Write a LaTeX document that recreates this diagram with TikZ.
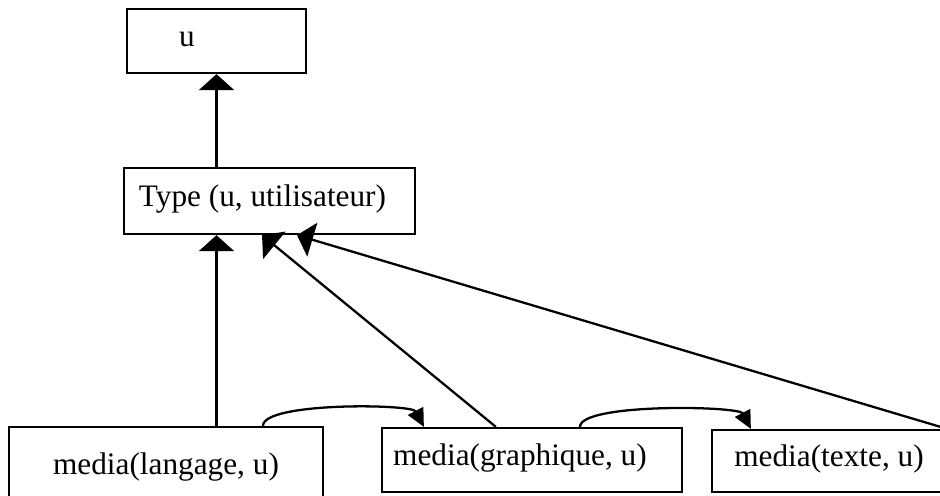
\documentclass[tikz,border=0pt]{standalone}
\usepackage{fontspec}
\setmainfont{Liberation Serif}
\usetikzlibrary{arrows.meta}
\tikzset{
  boite/.style={draw, line width=1.3pt, font=\fontsize{17.8}{20}\selectfont, text height=1.5ex, text depth=.25ex, inner sep=0pt},
  fleche/.style={line width=1.3pt, -{Triangle[width=0.7cm,length=0.32cm]}},
  boucle/.style={line width=1.3pt, -{Triangle[width=0.34cm,length=0.36cm]}},
}

\begin{document}
\begin{tikzpicture}[x=0.02cm, y=-0.02cm]
  \useasboundingbox (0,0) rectangle (940,495);
  \clip (0,0) rectangle (940,495);
  \fill[white] (0,0) rectangle (940,495);
  % les boites
  \node[boite, minimum width=3.58cm, minimum height=1.28cm] (u) at (216.5,41) {\hspace*{-1.18cm}u};
  \node[boite, minimum width=5.82cm, minimum height=1.32cm] (type) at (269.5,201) {\hspace*{-0.28cm}Type (u, utilisateur)};
  \node[boite, minimum width=6.28cm, minimum height=1.68cm] (langage) at (166,469) {media(langage, u)};
  \node[boite, minimum width=6cm, minimum height=1.28cm] (graphique) at (532,460) {\hspace*{-0.48cm}media(graphique, u)};
  \node[boite, minimum width=4.68cm, minimum height=1.24cm] (texte) at (829,461) {media(texte, u)};
  % liens vers le haut
  \draw[fleche] (type.north -| u.south) -- (u.south);
  \draw[fleche] (langage.north -| u.south) -- (type.south -| u.south);
  \draw[fleche] ([xshift=2.3cm]graphique.north west) -- ([xshift=-0.15cm]type.south);
  \draw[fleche] (texte.north east) -- ([xshift=0.55cm]type.south);
  % liens entre medias
  \draw[boucle] ([xshift=1.94cm]langage.north) .. controls +(0,-24) and +(-12,-23) .. ([xshift=0.86cm]graphique.north west);
  \draw[boucle] ([xshift=0.96cm]graphique.north) .. controls +(0,-24) and +(-12,-23) .. ([xshift=0.8cm]texte.north west);
\end{tikzpicture}
\end{document}
